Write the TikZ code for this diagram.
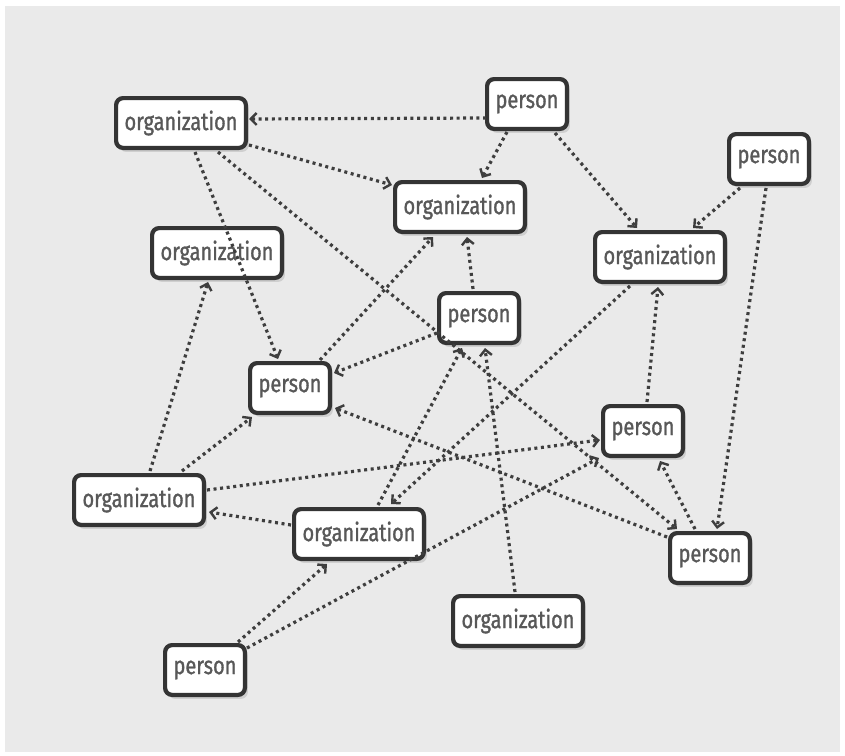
\documentclass[tikz,border=0pt]{standalone}
\usepackage{fontspec}
\setmainfont{Fira Sans}[FakeStretch=0.8, FakeBold=1.2]
\usetikzlibrary{arrows.meta,calc,shadows}
\definecolor{paper}{RGB}{234,234,234}
\definecolor{ink}{RGB}{52,52,52}
\definecolor{labelgray}{RGB}{88,88,88}
\definecolor{linkgray}{RGB}{62,62,62}

\tikzset{
  box/.style={draw=ink, line width=4.2pt, rounded corners=7pt, fill=white,
    minimum height=49.8pt, inner sep=0pt, text=labelgray,
    font=\fontsize{25}{25}\selectfont,
    drop shadow={shadow xshift=3pt, shadow yshift=-4pt, opacity=0.25}},
  org/.style={box, minimum width=129.8pt},
  per/.style={box, minimum width=79.8pt},
  lnk/.style={draw=linkgray, line width=3.2pt, dash pattern=on 3pt off 3.6pt,
    -{Straight Barb[length=6pt,width=12pt,line width=2.4pt]}}
}

\begin{document}
\begin{tikzpicture}[x=1pt,y=-1pt]
  \useasboundingbox (0,0) rectangle (845,755);
  \fill[white] (0,0) rectangle (845,755);
  \fill[paper] (5,6) rectangle (840,752);

  % entities
  \node[org] (O1) at (181,123) {organization};
  \node[per] (P1) at (527,104) {person};
  \node[org] (O2) at (460,207) {organization};
  \node[per] (P2) at (769,159) {person};
  \node[org] (O3) at (217,253) {organization};
  \node[org] (O4) at (660,257) {organization};
  \node[per] (P3) at (479,318) {person};
  \node[per] (P4) at (290,388) {person};
  \node[per] (P5) at (643,431) {person};
  \node[org] (O5) at (139,500) {organization};
  \node[org] (O6) at (359,534) {organization};
  \node[per] (P6) at (710,558) {person};
  \node[org] (O7) at (518,621) {organization};
  \node[per] (P7) at (205,670) {person};

  % relations
  \draw[lnk] ($(P1)+(-41,14)$) -- ($(O1)+(68,-4)$);
  \draw[lnk] ($(O1)+(68,22)$) -- ($(O2)+(-68,-22)$);
  \draw[lnk] ($(P1)+(-20,28)$) -- ($(O2)+(22,-29)$);
  \draw[lnk] ($(P1)+(28,29)$) -- ($(O4)+(-23,-29)$);
  \draw[lnk] ($(P2)+(-29,29)$) -- ($(O4)+(33,-29)$);
  \draw[lnk] ($(P2)+(-3,29)$) -- ($(P6)+(7,-29)$);
  \draw[lnk] ($(O1)+(14,29)$) -- ($(P4)+(-12,-29)$);
  \draw[lnk] ($(O1)+(37,29)$) -- ($(P6)+(-33,-29)$);
  \draw[lnk] ($(O5)+(11,-29)$) -- ($(O3)+(-9,29)$);
  \draw[lnk] ($(O5)+(43,-29)$) -- ($(P4)+(-38,29)$);
  \draw[lnk] ($(P4)+(30,-28)$) -- ($(O2)+(-27,30)$);
  \draw[lnk] ($(P3)+(-6,-29)$) -- ($(O2)+(7,30)$);
  \draw[lnk] ($(P3)+(-42,15)$) -- ($(P4)+(44,-15)$);
  \draw[lnk] ($(P6)+(-43,-21)$) -- ($(P4)+(45,20)$);
  \draw[lnk] ($(O5)+(68,-10)$) -- ($(P5)+(-43,9)$);
  \draw[lnk] ($(O6)+(-68,-9)$) -- ($(O5)+(70,12)$);
  \draw[lnk] ($(O6)+(19,-29)$) -- ($(P3)+(-17,30)$);
  \draw[lnk] ($(O4)+(-30,29)$) -- ($(O6)+(32,-30)$);
  \draw[lnk] ($(O7)+(-3,-29)$) -- ($(P3)+(6,30)$);
  \draw[lnk] ($(P5)+(4,-29)$) -- ($(O4)+(-2,30)$);
  \draw[lnk] ($(P6)+(-15,-29)$) -- ($(P5)+(17,30)$);
  \draw[lnk] ($(P7)+(33,-28)$) -- ($(O6)+(-32,30)$);
  \draw[lnk] ($(P7)+(42,-22)$) -- ($(P5)+(-44,27)$);
\end{tikzpicture}
\end{document}
